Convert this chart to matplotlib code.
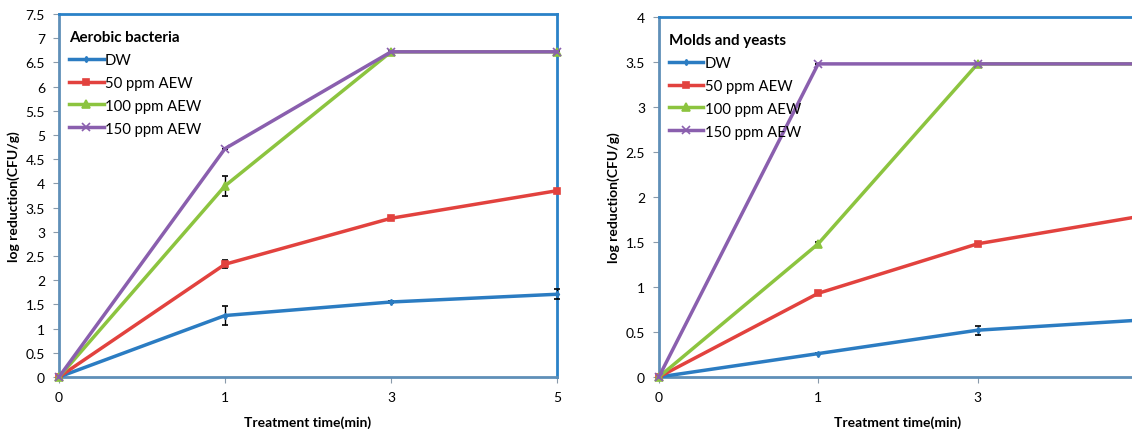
import numpy as np
import matplotlib.pyplot as plt

plt.rcParams['font.family'] = ['Lato', 'DejaVu Sans']

times = ['0', '1', '3', '5']
series = ['DW', '50 ppm AEW', '100 ppm AEW', '150 ppm AEW']

# aerobic bacteria
ab_dw = [0, 1.27, 1.55, 1.71]
ab_50 = [0, 2.33, 3.28, 3.85]
ab_100 = [0, 3.95, 6.72, 6.72]
ab_150 = [0, 4.72, 6.72, 6.72]
ab_dw_err = [0, 0.20, 0.03, 0.10]
ab_50_err = [0, 0.08, 0.03, 0.03]
ab_100_err = [0, 0.20, 0.02, 0.02]
ab_150_err = [0, 0, 0, 0]

# molds and yeasts
my_dw = [0, 0.26, 0.52, 0.63]
my_50 = [0, 0.93, 1.48, 1.78]
my_100 = [0, 1.48, 3.48, 3.48]
my_150 = [0, 3.48, 3.48, 3.48]
my_dw_err = [0, 0.01, 0.05, 0.05]
my_50_err = [0, 0.02, 0.02, 0.02]
my_100_err = [0, 0.02, 0.01, 0.01]
my_150_err = [0, 0, 0, 0]

colors = ['#2b7cc2', '#e2423e', '#8cc43f', '#8a5fae']
markers = ['d', 's', '^', 'x']
msizes = [3, 5, 6, 6]

fig = plt.figure(figsize=(11.32, 4.31), dpi=100)


def draw(ax, data, errs, title, ymax, ystep):
    x = np.arange(len(times))
    for vals, err, name, c, m, ms in zip(data, errs, series, colors, markers, msizes):
        ax.errorbar(x, vals, yerr=err, color=c, lw=2.5, marker=m, ms=ms,
                    mew=1.2, ecolor='black', elinewidth=1, capsize=2.5,
                    capthick=1, label=name, clip_on=False, zorder=3)
    ax.set_xlim(0, 3)
    ax.set_ylim(0, ymax)
    ax.set_xticks(x)
    ax.set_xticklabels(times)
    yt = np.arange(0, ymax + 1e-9, ystep)
    ax.set_yticks(yt)
    ax.set_yticklabels(['%g' % v for v in yt])
    ax.tick_params(labelsize=10, length=4, color='#8a9aaa', pad=6)
    for s in ['left', 'bottom']:
        ax.spines[s].set_color('#5f8fb8')
        ax.spines[s].set_linewidth(2)
    for s in ['top', 'right']:
        ax.spines[s].set_color('#2a82c8')
        ax.spines[s].set_linewidth(2)
    ax.set_xlabel('Treatment time(min)', fontsize=10, fontweight='bold', labelpad=9)
    ax.set_ylabel('log reduction(CFU/g)', fontsize=10, fontweight='bold', labelpad=4)
    h, l = ax.get_legend_handles_labels()
    h = [hh[0] for hh in h]
    ax.legend(h, l, title=title, loc='upper left', frameon=False,
              fontsize=10.7, handlelength=2.3, handletextpad=0.1,
              labelspacing=0.6, alignment='left',
              title_fontproperties={'weight': 'bold', 'size': 10.9},
              borderaxespad=0.3, bbox_to_anchor=(0.0, 0.985))


ax1 = fig.add_axes([0.0521, 0.123, 0.44, 0.842])
draw(ax1, [ab_dw, ab_50, ab_100, ab_150],
     [ab_dw_err, ab_50_err, ab_100_err, ab_150_err],
     'Aerobic bacteria', 7.5, 0.5)

ax2 = fig.add_axes([0.582, 0.123, 0.4223, 0.835])
draw(ax2, [my_dw, my_50, my_100, my_150],
     [my_dw_err, my_50_err, my_100_err, my_150_err],
     'Molds and yeasts', 4, 0.5)

fig.savefig('out.png', dpi=100)
